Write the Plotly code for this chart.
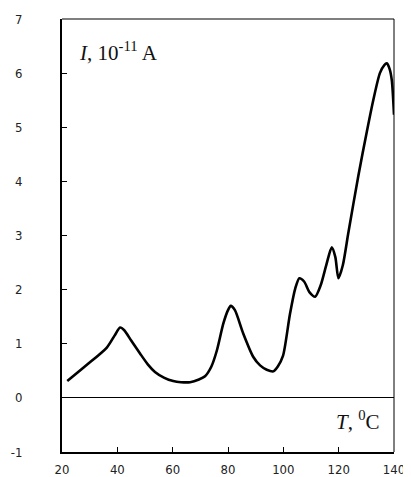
import plotly.graph_objects as go

temperature = [21.9, 29, 36.2, 39, 41.0, 42.5, 45, 48.2, 51, 53.6, 57, 60.2, 63, 66.3, 69.5,
               71.7, 74, 76.0, 78.3, 80, 81.0, 82.5, 85.5, 89.1, 91.6, 94, 96.4, 98, 99.9,
               102.4, 104.3, 105.8, 107.5, 109.5, 111.5, 113.5, 115.5, 117.5, 118.8, 119.9,
               121.5, 123.5, 127.1, 130.3, 132.5, 134.9, 136.5, 137.4, 138.4, 139.2, 140]
current = [0.31, 0.61, 0.93, 1.15, 1.30, 1.25, 1.06, 0.82, 0.62, 0.48, 0.37, 0.31, 0.29, 0.29, 0.34,
           0.40, 0.58, 0.88, 1.37, 1.62, 1.70, 1.62, 1.19, 0.76, 0.60, 0.52, 0.49, 0.58, 0.78,
           1.55, 2.02, 2.21, 2.15, 1.95, 1.87, 2.08, 2.45, 2.78, 2.60, 2.21,
           2.45, 3.05, 4.10, 4.95, 5.5, 6.0, 6.15, 6.18, 6.08, 5.87, 5.23]

x_ticks = [20, 40, 60, 80, 100, 120, 140]
y_ticks = [-1, 0, 1, 2, 3, 4, 5, 6, 7]

tick_font = dict(family="Liberation Sans Narrow, Arial Narrow, DejaVu Sans Condensed, Roboto Condensed, Liberation Sans",
                 size=13, color="#222")
label_font = dict(family="Liberation Serif, Times New Roman, serif", size=21, color="#111")

fig = go.Figure()
fig.add_trace(go.Scatter(
    x=temperature, y=current, mode="lines",
    line=dict(color="black", width=2.6, shape="spline", smoothing=0.7),
    hoverinfo="skip", showlegend=False,
))

# page body has an 8px default margin, so the figure is sized to fit the window
fig.update_layout(
    width=403, height=469,
    margin=dict(l=54, r=17, t=11, b=25),
    paper_bgcolor="white", plot_bgcolor="white",
    showlegend=False,
    xaxis=dict(
        range=[20, 140], tickvals=x_ticks, ticktext=[str(v) for v in x_ticks],
        ticks="inside", ticklen=5, tickwidth=1, tickcolor="black",
        showline=True, linecolor="black", linewidth=2,
        showgrid=False, zeroline=False, tickfont=tick_font,
        ticklabelstandoff=4, automargin=False,
    ),
    yaxis=dict(
        range=[-1, 7], tickvals=y_ticks, ticktext=[str(v) for v in y_ticks],
        ticks="inside", ticklen=5, tickwidth=1, tickcolor="black",
        showline=True, linecolor="black", linewidth=2,
        showgrid=False, zeroline=True, zerolinecolor="black", zerolinewidth=1,
        tickfont=tick_font, ticklabelstandoff=35, automargin=False,
    ),
    shapes=[
        dict(type="line", xref="paper", yref="paper", x0=0, x1=1, y0=1, y1=1,
             line=dict(color="#555", width=1.5)),
        dict(type="line", xref="paper", yref="paper", x0=1, x1=1, y0=0, y1=1,
             line=dict(color="black", width=1)),
    ],
    annotations=[
        dict(text="<i>I</i>, 10<sup>-11</sup> A", xref="paper", yref="paper",
             x=0.045, y=0.925, xanchor="left", yanchor="middle", showarrow=False,
             font=label_font),
        dict(text="<i>T</i>, <sup>0</sup>C", xref="paper", yref="paper",
             x=0.965, y=0.073, xanchor="right", yanchor="middle", showarrow=False,
             font=label_font),
    ],
)

fig.write_html("out.html")
